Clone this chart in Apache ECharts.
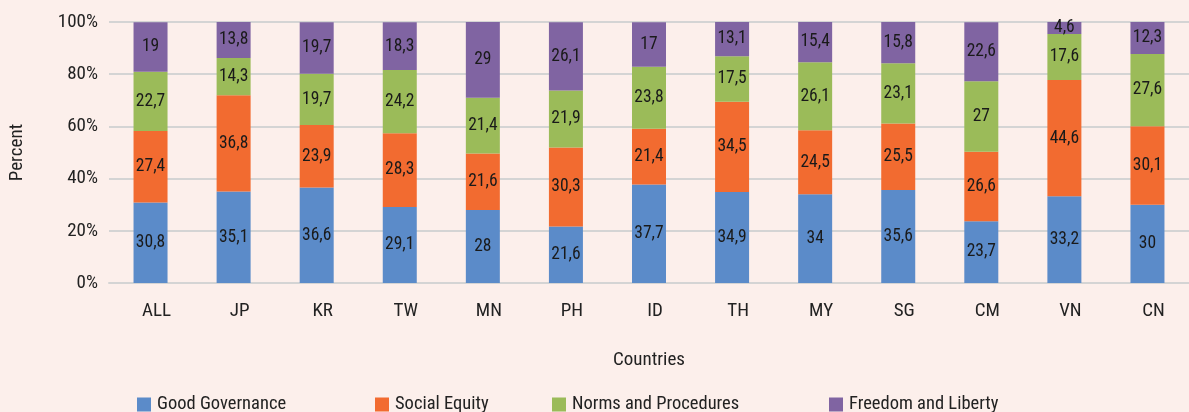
<!DOCTYPE html>
<html><head><meta charset="utf-8">
<script src="https://cdn.jsdelivr.net/npm/echarts@6/dist/echarts.min.js"></script>
<style>html,body{margin:0;padding:0;background:#fcefeb;}#c{width:1189px;height:412px;}</style>
</head><body><div id="c"></div>
<script>
const categories = ['ALL','JP','KR','TW','MN','PH','ID','TH','MY','SG','CM','VN','CN'];
const goodGovernance = [30.8,35.1,36.6,29.1,28,21.6,37.7,34.9,34,35.6,23.7,33.2,30];
const socialEquity = [27.4,36.8,23.9,28.3,21.6,30.3,21.4,34.5,24.5,25.5,26.6,44.6,30.1];
const normsProcedures = [22.7,14.3,19.7,24.2,21.4,21.9,23.8,17.5,26.1,23.1,27,17.6,27.6];
const freedomLiberty = [19,13.8,19.7,18.3,29,26.1,17,13.1,15.4,15.8,22.6,4.6,12.3];
const yTicks = [0,20,40,60,80,100];

const FONT = '"Roboto Condensed","Liberation Sans Narrow","Roboto",sans-serif';
const names = ['Good Governance','Social Equity','Norms and Procedures','Freedom and Liberty'];
const colors = ['#5b8bc9','#f26b30','#9bbb59','#8064a2'];
const datas = [goodGovernance, socialEquity, normsProcedures, freedomLiberty];
const legendLeft = [137, 375, 552, 829];

const chart = echarts.init(document.getElementById('c'));
chart.setOption({
  backgroundColor: '#fcefeb',
  animation: false,
  textStyle: {fontFamily: FONT},
  grid: {left: 104, top: 22, width: 1090, height: 261, containLabel: false},
  legend: names.map((n, i) => ({
    data: [n], left: legendLeft[i], top: 395, itemWidth: 14, itemHeight: 14, icon: 'rect',
    itemGap: 0, padding: 0,
    textStyle: {fontFamily: FONT, fontSize: 18.5, color: '#222', padding: [0,0,0,1]},
    selectedMode: false
  })),
  xAxis: {
    type: 'category', data: categories,
    name: 'Countries', nameLocation: 'middle', nameGap: 68,
    nameTextStyle: {fontFamily: FONT, fontSize: 19, color: '#222'},
    axisLine: {show: true, lineStyle: {color: '#d4d4d4', width: 2}},
    axisTick: {show: false},
    axisLabel: {fontFamily: FONT, fontSize: 19, color: '#222', margin: 19, padding: [0,0,0,12]}
  },
  yAxis: {
    type: 'value', min: 0, max: 100, interval: 20,
    name: 'Percent', nameLocation: 'middle', nameGap: 82, nameRotate: 90,
    nameTextStyle: {fontFamily: FONT, fontSize: 19, color: '#222'},
    axisLabel: {fontFamily: FONT, fontSize: 19, color: '#222', margin: 11,
      formatter: v => yTicks.includes(v) ? v + '%' : ''},
    splitLine: {lineStyle: {color: '#d4d4d4', width: 2}},
    axisLine: {show: false}, axisTick: {show: false}
  },
  series: names.map((n, i) => ({
    name: n, type: 'bar', stack: 'total', data: datas[i], barWidth: 34,
    itemStyle: {color: colors[i]},
    label: {show: true, position: 'inside', fontFamily: FONT, fontSize: 17.5, color: '#1a1a1a',
      formatter: p => String(p.value).replace('.', ',')}
  }))
});
</script></body></html>
